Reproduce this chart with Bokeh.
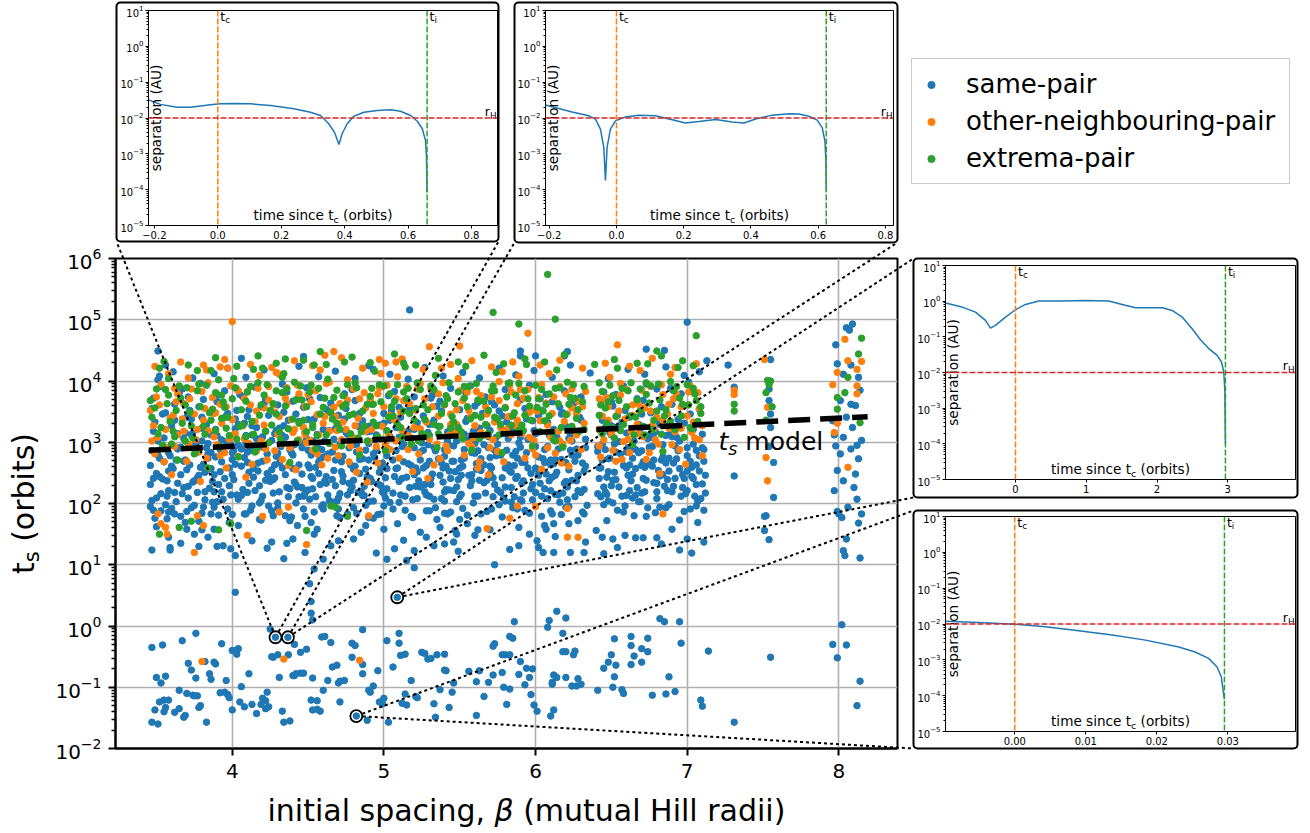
import math
from bokeh.plotting import figure
from bokeh.models import (Range1d, FixedTicker, CustomJSTickFormatter, Span, BoxAnnotation,
                          Legend, LegendItem)
from bokeh.core.properties import value
from bokeh.embed import file_html
from bokeh.resources import INLINE

W, H = 1310, 833
FONT = "DejaVu Sans"
BLUE, ORANGE, GREEN, RED = "#1f77b4", "#ff7f0e", "#2ca02c", "#d62728"

# ---------------- data: (initial spacing beta, log10 t_s) ----------------
same_pair_band_a = [
(3.46,2.31),(3.48,3.72),(3.47,2.86),(3.50,3.05),(3.52,2.44),(3.49,3.33),(3.55,2.68),(3.53,3.91),(3.57,2.12),(3.56,3.48),(3.60,2.95),(3.58,2.21),(3.62,3.62),(3.61,2.57),(3.64,3.14),(3.63,2.03),(3.51,4.02),(3.59,2.78),(3.47,3.55),(3.54,2.40),
(3.66,2.92),(3.68,2.26),(3.70,3.41),(3.67,3.87),(3.72,2.63),(3.74,3.15),(3.71,2.09),(3.76,2.83),(3.78,3.58),(3.75,2.37),(3.80,3.02),(3.82,2.51),(3.79,3.96),(3.84,2.74),(3.83,3.29),(3.69,2.71),(3.77,2.18),(3.81,3.70),(3.73,3.38),(3.85,2.25),
(3.86,3.12),(3.88,2.47),(3.90,3.66),(3.87,2.02),(3.92,2.88),(3.94,3.39),(3.91,2.31),(3.96,3.01),(3.98,2.58),(3.95,3.84),(4.00,2.72),(4.02,3.22),(3.99,2.14),(4.04,2.95),(4.03,3.52),(3.89,2.76),(3.97,3.47),(4.01,2.39),(3.93,2.19),(4.05,3.78),
(4.06,2.61),(4.08,3.31),(4.10,2.18),(4.07,3.74),(4.12,2.87),(4.14,2.43),(4.11,3.53),(4.16,3.06),(4.18,2.29),(4.15,3.90),(4.20,2.69),(4.22,3.18),(4.19,2.05),(4.24,3.44),(4.23,2.81),(4.09,2.97),(4.17,2.53),(4.21,3.63),(4.13,3.12),(4.25,2.36),
(4.26,3.03),(4.28,2.42),(4.30,3.61),(4.27,2.17),(4.32,2.93),(4.34,3.27),(4.31,2.66),(4.36,3.82),(4.38,2.24),(4.35,3.08),(4.40,2.57),(4.42,3.46),(4.39,2.83),(4.44,2.11),(4.43,3.71),(4.29,2.77),(4.37,3.36),(4.41,2.35),(4.33,3.95),(4.45,2.99),
(4.46,2.48),(4.48,3.16),(4.50,2.22),(4.47,3.57),(4.52,2.79),(4.54,3.38),(4.51,2.07),(4.56,2.96),(4.58,3.73),(4.55,2.59),(4.60,3.21),(4.62,2.33),(4.59,2.88),(4.64,3.49),(4.63,2.14),(4.49,3.89),(4.57,2.68),(4.61,3.02),(4.53,2.41),(4.65,3.64),
(4.66,2.84),(4.68,2.29),(4.70,3.44),(4.67,3.05),(4.72,2.52),(4.74,3.79),(4.71,2.16),(4.76,3.13),(4.78,2.63),(4.75,3.55),(4.80,2.38),(4.82,2.97),(4.79,3.86),(4.84,2.72),(4.83,3.26),(4.69,2.04),(4.77,2.91),(4.81,3.68),(4.73,2.45),(4.85,2.19),
(4.86,3.35),(4.88,2.56),(4.90,2.98),(4.87,2.13),(4.92,3.62),(4.94,2.75),(4.91,3.18),(4.96,2.32),(4.98,3.91),(4.95,2.87),(5.00,3.47),(5.02,2.24),(4.99,2.66),(5.04,3.09),(5.03,3.76),(4.89,2.44),(4.97,3.28),(5.01,2.09),(4.93,2.81),(5.05,3.52),
(5.06,2.71),(5.08,3.24),(5.10,2.36),(5.07,3.83),(5.12,2.93),(5.14,2.12),(5.11,3.41),(5.16,2.65),(5.18,3.07),(5.15,3.68),(5.20,2.47),(5.22,3.32),(5.19,2.06),(5.24,2.84),(5.23,3.95),(5.09,2.58),(5.17,3.55),(5.21,2.28),(5.13,3.14),(5.25,2.99),
(5.26,3.43),(5.28,2.62),(5.30,3.11),(5.27,2.19),(5.32,3.77),(5.34,2.86),(5.31,2.41),(5.36,3.26),(5.38,2.08),(5.35,3.59),(5.40,2.77),(5.42,3.02),(5.39,2.35),(5.44,3.88),(5.43,2.53),(5.29,2.96),(5.37,3.67),(5.41,2.23),(5.33,3.36),(5.45,2.69),
(5.46,2.94),(5.48,2.27),(5.50,3.53),(5.47,3.18),(5.52,2.61),(5.54,3.81),(5.51,2.15),(5.56,3.04),(5.58,2.47),(5.55,3.39),(5.60,2.82),(5.62,3.65),(5.59,2.01),(5.64,2.73),(5.63,3.23),(5.49,2.39),(5.57,3.92),(5.61,2.56),(5.53,2.88),(5.65,3.47),
(5.66,2.34),(5.68,3.27),(5.70,2.75),(5.67,3.74),(5.72,2.11),(5.74,3.08),(5.71,2.58),(5.76,3.51),(5.78,2.42),(5.75,2.97),(5.80,3.86),(5.82,2.63),(5.79,3.15),(5.84,2.26),(5.83,3.42),(5.69,2.91),(5.77,2.18),(5.81,3.33),(5.73,3.61),(5.85,2.79),
(5.86,3.21),(5.88,2.44),(5.90,3.69),(5.87,2.85),(5.92,2.17),(5.94,3.38),(5.91,2.67),(5.96,3.93),(5.98,2.31),(5.95,3.05),(6.00,2.58),(6.02,3.44),(5.99,2.93),(6.04,2.12),(6.03,3.71),(5.89,2.99),(5.97,2.49),(6.01,3.16),(5.93,3.55),(6.05,2.73),
(6.06,2.88),(6.08,3.32),(6.10,2.21),(6.07,3.78),(6.12,2.65),(6.14,3.09),(6.11,2.43),(6.16,3.57),(6.18,2.94),(6.15,2.14),(6.20,3.26),(6.22,2.55),(6.19,3.84),(6.24,2.79),(6.23,3.13),(6.09,2.37),(6.17,3.46),(6.21,2.06),(6.13,2.72),(6.25,3.63),
(6.26,3.18),(6.28,2.46),(6.30,3.74),(6.27,2.89),(6.32,2.23),(6.29,3.41),(6.31,2.66),(6.33,3.05),(6.42,2.58),(6.44,3.36),(6.43,2.11),(6.41,2.93),(6.45,3.82),(6.44,2.71),
(6.46,3.24),(6.48,2.52),(6.50,3.66),(6.47,2.15),(6.52,2.97),(6.54,3.44),(6.51,2.38),(6.56,2.81),(6.58,3.92),(6.55,2.27),(6.60,3.15),(6.62,2.63),(6.59,3.52),(6.64,2.09),(6.63,2.89),(6.49,2.74),(6.57,3.33),(6.61,2.46),(6.53,3.78),(6.65,3.02),
(6.66,2.57),(6.68,3.29),(6.70,2.86),(6.67,3.71),(6.72,2.19),(6.74,3.06),(6.71,2.68),(6.76,3.48),(6.78,2.34),(6.75,2.92),(6.80,3.87),(6.82,2.45),(6.79,3.17),(6.84,2.76),(6.83,3.58),(6.69,2.03),(6.77,2.61),(6.81,3.35),(6.73,3.95),(6.85,2.28),
(6.86,3.11),(6.88,2.53),(6.90,3.62),(6.87,2.21),(6.92,2.94),(6.94,3.37),(6.91,2.66),(6.96,3.79),(6.98,2.41),(6.95,3.02),(7.00,2.78),(7.02,3.46),(6.99,2.16),(7.04,3.21),(7.03,2.59),(7.06,2.87),(7.08,3.54),(7.10,2.32),(7.07,2.04),(7.11,2.69),(6.89,3.88),(6.97,2.47),(7.01,3.98),(7.05,2.12),
]
same_pair_band_b = [
(3.46,2.62),(3.48,3.18),(3.50,2.09),(3.52,2.74),(3.54,3.46),(3.56,1.98),(3.58,2.53),(3.60,3.27),(3.62,2.18),(3.64,2.89),(3.65,3.81),(3.49,1.76),
(3.66,2.47),(3.68,3.06),(3.70,1.87),(3.72,3.52),(3.74,2.35),(3.76,2.97),(3.78,1.71),(3.80,3.23),(3.82,2.06),(3.84,2.81),(3.71,3.74),(3.79,2.59),
(3.86,2.83),(3.88,1.94),(3.90,3.11),(3.92,2.52),(3.94,2.07),(3.96,3.43),(3.98,2.29),(4.00,1.82),(4.02,2.64),(4.04,3.29),(3.91,3.77),(3.99,2.96),
(4.06,2.13),(4.08,2.75),(4.10,3.42),(4.12,1.89),(4.14,2.57),(4.16,3.24),(4.18,2.01),(4.20,2.92),(4.22,3.69),(4.24,2.44),(4.11,2.33),(4.19,3.58),
(4.26,2.55),(4.28,3.14),(4.30,1.93),(4.32,2.71),(4.34,3.49),(4.36,2.26),(4.38,2.88),(4.40,3.67),(4.42,2.01),(4.44,2.63),(4.31,3.23),(4.39,1.78),
(4.46,2.91),(4.48,2.17),(4.50,3.37),(4.52,2.44),(4.54,1.86),(4.56,3.13),(4.58,2.31),(4.60,2.76),(4.62,3.54),(4.64,2.05),(4.51,3.71),(4.59,1.95),
(4.66,2.39),(4.68,3.22),(4.70,1.91),(4.72,2.68),(4.74,3.38),(4.76,2.14),(4.78,3.03),(4.80,2.56),(4.82,1.84),(4.84,3.47),(4.71,2.97),(4.79,2.27),
(4.86,2.73),(4.88,1.97),(4.90,3.26),(4.92,2.36),(4.94,3.04),(4.96,1.82),(4.98,2.59),(5.00,3.31),(5.02,2.78),(5.04,2.02),(4.91,3.66),(4.99,2.19),
(5.06,2.17),(5.08,2.86),(5.10,3.57),(5.12,2.41),(5.14,1.89),(5.16,3.18),(5.18,2.62),(5.20,3.74),(5.22,2.08),(5.24,2.71),(5.11,3.02),(5.19,1.77),
(5.26,2.87),(5.28,2.14),(5.30,3.29),(5.32,2.48),(5.34,1.93),(5.36,2.73),(5.38,3.51),(5.40,2.19),(5.42,2.96),(5.44,1.86),(5.31,3.72),(5.39,2.58),
(5.46,2.21),(5.48,3.02),(5.50,2.58),(5.52,1.92),(5.54,3.34),(5.56,2.46),(5.58,2.83),(5.60,3.59),(5.62,2.12),(5.64,1.83),(5.51,2.71),(5.59,3.18),
(5.66,2.96),(5.68,1.87),(5.70,3.19),(5.72,2.42),(5.74,2.78),(5.76,1.98),(5.78,3.43),(5.80,2.27),(5.82,3.06),(5.84,2.51),(5.71,3.66),(5.79,2.09),
(5.86,2.62),(5.88,1.91),(5.90,3.08),(5.92,2.37),(5.94,2.83),(5.96,1.84),(5.98,3.35),(6.00,2.18),(6.02,2.76),(6.04,3.52),(5.91,2.04),(5.99,3.19),
(6.06,2.24),(6.08,2.93),(6.10,1.88),(6.12,3.21),(6.14,2.51),(6.16,2.02),(6.18,3.48),(6.20,2.67),(6.22,1.95),(6.24,3.02),(6.11,3.66),(6.19,2.33),
(6.26,2.11),(6.28,2.79),(6.30,3.36),(6.32,2.53),(6.34,1.97),(6.41,2.85),(6.43,3.19),(6.45,2.27),
(6.46,2.88),(6.48,2.04),(6.50,3.12),(6.52,2.51),(6.54,1.89),(6.56,3.27),(6.58,2.62),(6.60,2.13),(6.62,3.41),(6.64,2.74),(6.51,3.59),(6.59,1.96),
(6.66,2.14),(6.68,2.83),(6.70,3.46),(6.72,2.59),(6.74,1.93),(6.76,3.14),(6.78,2.71),(6.80,2.08),(6.82,3.29),(6.84,2.47),(6.71,3.68),(6.79,1.85),
(6.86,2.66),(6.88,1.98),(6.90,3.09),(6.92,2.41),(6.94,2.86),(6.96,2.12),(6.98,3.31),(7.00,2.53),(7.02,1.91),(7.04,2.97),(7.06,2.31),(7.08,2.78),(7.10,3.13),(7.12,2.46),
]
same_pair_band_c = [
(3.47,2.05),(3.50,2.49),(3.53,1.88),(3.57,2.37),(3.60,1.92),(3.63,2.71),(3.51,3.02),(3.58,2.83),
(3.67,2.16),(3.70,2.55),(3.73,1.93),(3.77,2.42),(3.80,1.84),(3.83,2.91),(3.69,3.15),(3.81,2.64),
(3.87,2.36),(3.90,2.03),(3.93,2.68),(3.97,1.91),(4.00,2.47),(4.03,2.14),(3.89,3.21),(4.01,2.87),
(4.07,2.23),(4.10,2.84),(4.13,1.96),(4.17,2.66),(4.20,2.12),(4.23,2.49),(4.09,3.11),(4.21,2.95),
(4.27,2.39),(4.30,2.01),(4.33,2.58),(4.37,2.11),(4.40,2.79),(4.43,2.27),(4.29,3.19),(4.41,2.96),
(4.47,2.12),(4.50,2.63),(4.53,2.24),(4.57,2.49),(4.60,1.98),(4.63,2.81),(4.49,3.06),(4.61,2.37),
(4.67,2.54),(4.70,2.09),(4.73,2.77),(4.77,2.33),(4.80,2.96),(4.83,2.18),(4.69,3.23),(4.81,2.61),
(4.87,2.28),(4.90,2.71),(4.93,2.04),(4.97,2.51),(5.00,2.16),(5.03,2.89),(4.89,3.17),(5.01,2.42),
(5.07,2.44),(5.10,2.02),(5.13,2.68),(5.17,2.26),(5.20,2.91),(5.23,2.37),(5.09,3.24),(5.21,2.58),
(5.27,2.31),(5.30,2.69),(5.33,2.07),(5.37,2.46),(5.40,2.88),(5.43,2.22),(5.29,3.16),(5.41,2.61),
(5.47,2.52),(5.50,2.11),(5.53,2.74),(5.57,2.29),(5.60,2.98),(5.63,2.38),(5.49,3.21),(5.61,2.65),
(5.67,2.17),(5.70,2.61),(5.73,2.31),(5.77,2.79),(5.80,2.04),(5.83,2.53),(5.69,3.09),(5.81,2.87),
(5.87,2.41),(5.90,2.06),(5.93,2.67),(5.97,2.24),(6.00,2.93),(6.03,2.33),(5.89,3.26),(6.01,2.56),
(6.07,2.48),(6.10,2.63),(6.13,2.15),(6.17,2.72),(6.20,2.36),(6.23,2.87),(6.09,3.12),(6.21,2.27),
(6.27,2.37),(6.30,2.18),(6.33,2.61),(6.42,2.41),(6.44,2.97),
(6.47,2.43),(6.50,2.29),(6.53,2.84),(6.57,2.12),(6.60,2.58),(6.63,2.37),(6.49,3.16),(6.61,2.91),
(6.67,2.26),(6.70,2.62),(6.73,2.38),(6.77,2.93),(6.80,2.19),(6.83,2.71),(6.69,3.22),(6.81,2.54),
(6.87,2.39),(6.90,2.19),(6.93,2.73),(6.97,2.26),(7.00,2.91),(7.03,2.44),(7.06,2.63),(7.09,2.08),(6.89,3.14),(7.11,2.88),
]
same_pair_band_d = [
(3.46,1.95),(3.48,2.41),(3.51,2.79),(3.53,2.16),(3.55,3.07),(3.58,1.86),(3.60,2.61),(3.62,3.36),(3.64,2.33),(3.50,1.62),
(3.66,1.79),(3.68,2.69),(3.71,2.28),(3.73,3.12),(3.75,1.97),(3.78,2.46),(3.80,3.41),(3.82,2.19),(3.84,2.98),(3.70,1.58),
(3.86,2.57),(3.88,2.19),(3.91,1.81),(3.93,3.04),(3.95,2.41),(3.98,1.69),(4.00,2.83),(4.02,3.38),(4.04,2.07),(3.90,2.95),
(4.06,2.89),(4.08,1.83),(4.11,2.51),(4.13,3.27),(4.15,2.21),(4.18,1.74),(4.20,3.09),(4.22,2.38),(4.24,1.96),(4.10,2.67),
(4.26,1.88),(4.28,2.63),(4.31,2.19),(4.33,3.11),(4.35,2.47),(4.38,1.72),(4.40,2.96),(4.42,2.31),(4.44,3.34),(4.30,2.82),
(4.46,2.26),(4.48,1.79),(4.51,2.58),(4.53,3.02),(4.55,2.11),(4.58,2.73),(4.60,1.91),(4.62,2.44),(4.64,3.19),(4.50,2.87),
(4.66,2.02),(4.68,2.71),(4.71,1.77),(4.73,2.36),(4.75,3.16),(4.78,2.21),(4.80,1.93),(4.82,2.84),(4.84,2.49),(4.70,3.29),
(4.86,2.13),(4.88,2.87),(4.91,2.41),(4.93,1.76),(4.95,3.12),(4.98,2.29),(5.00,1.96),(5.02,2.57),(5.04,3.36),(4.90,2.03),
(5.06,1.91),(5.08,2.57),(5.11,2.14),(5.13,2.96),(5.15,2.43),(5.18,1.79),(5.20,3.21),(5.22,2.52),(5.24,2.27),(5.10,3.08),
(5.26,2.58),(5.28,1.88),(5.31,2.31),(5.33,2.92),(5.35,1.74),(5.38,2.66),(5.40,2.04),(5.42,3.17),(5.44,2.41),(5.30,2.12),
(5.46,2.69),(5.48,2.03),(5.51,2.46),(5.53,3.13),(5.55,1.81),(5.58,2.37),(5.60,2.12),(5.62,2.86),(5.64,2.54),(5.50,1.74),
(5.66,2.63),(5.68,2.38),(5.71,1.91),(5.73,2.87),(5.75,2.22),(5.78,1.78),(5.80,2.58),(5.82,3.21),(5.84,2.02),(5.70,2.49),
(5.86,2.11),(5.88,2.74),(5.91,2.33),(5.93,1.89),(5.95,2.58),(5.98,2.06),(6.00,3.14),(6.02,2.46),(6.04,1.79),(5.90,2.92),
(6.06,2.67),(6.08,2.08),(6.11,1.83),(6.13,2.46),(6.15,2.89),(6.18,2.17),(6.20,1.94),(6.22,3.06),(6.24,2.38),(6.10,2.71),
(6.26,2.69),(6.28,2.21),(6.31,1.86),(6.33,2.91),(6.41,2.16),(6.43,2.58),(6.45,1.98),
(6.46,2.19),(6.48,2.73),(6.51,2.01),(6.53,2.39),(6.55,3.01),(6.58,1.86),(6.60,2.84),(6.62,2.21),(6.64,2.48),(6.50,3.27),
(6.66,2.88),(6.68,2.03),(6.71,2.41),(6.73,1.79),(6.75,2.64),(6.78,3.07),(6.80,2.33),(6.82,1.94),(6.84,2.96),(6.70,2.17),
(6.86,1.93),(6.88,2.74),(6.91,2.28),(6.93,3.08),(6.95,2.57),(6.98,1.87),(7.00,2.21),(7.02,2.69),(7.04,2.41),(7.06,1.96),(7.08,2.53),(7.10,2.91),(7.12,2.17),
]
same_pair_fringe = [(3.52,4.08),(3.61,4.15),(3.74,4.05),(3.88,4.12),(3.97,4.21),(4.09,4.06),(4.21,4.18),(4.33,4.09),(4.44,4.24),(4.57,4.07),(4.68,4.16),(4.81,4.04),
(4.93,4.19),(5.04,4.11),(5.16,4.03),(5.27,4.22),(5.39,4.08),(5.52,4.14),(5.63,4.05),(5.76,4.21),(5.87,4.10),(5.99,4.17),(6.11,4.06),(6.23,4.26),(6.36,4.13),(6.48,4.04),
(6.61,4.19),(6.72,4.11),(6.86,4.23),(6.98,4.09),(7.08,4.15)]
same_pair_mid_low = [
(3.47,1.24),(3.48,1.89),(3.57,1.75),(3.58,1.45),(3.59,1.28),(3.59,1.24),(3.62,1.83),(3.66,1.35),(3.69,1.69),(3.75,1.50),(3.78,1.30),(3.80,1.57),(3.81,1.94),(3.84,1.45),(3.86,1.83),(3.88,1.58),(3.90,1.30),(3.94,1.31),(3.99,1.26),(4.02,1.15),
(4.04,1.64),(4.09,1.83),(4.13,1.39),(4.19,1.73),(4.23,1.27),(4.26,1.37),(4.27,1.80),(4.34,1.10),(4.35,1.80),(4.36,1.35),(4.40,1.42),(4.43,1.64),(4.47,1.91),(4.48,1.20),(4.52,1.69),(4.54,1.50),(4.56,1.58),(4.60,1.09),(4.65,1.31),(4.69,1.80),
(4.70,1.39),(4.76,1.83),(4.80,1.42),(4.85,1.53),(4.88,1.64),(4.90,1.77),(4.95,1.19),(4.98,1.83),(5.00,1.58),(5.02,1.09),(5.07,1.26),(5.09,1.67),(5.13,1.40),(5.15,1.07),(5.20,1.23),(5.24,1.53),(5.28,1.45),(5.30,1.88),(5.33,1.31),(5.37,1.61),
(5.42,1.83),(5.46,1.37),(5.40,1.84),(5.48,1.50),(5.47,1.56),(5.40,1.34),(5.49,1.22),(5.55,1.67),(5.60,1.48),(5.62,1.57),(5.70,1.57),(5.73,1.00),(5.83,1.25),(5.85,1.93),(5.89,1.61),(5.89,1.31),(5.96,1.50),(6.01,1.39),(6.02,1.28),(6.05,1.20),
(6.06,1.64),(6.07,1.58),(6.12,1.20),(6.12,1.67),(6.13,1.46),(6.17,1.82),(6.22,1.67),(6.23,1.20),(6.28,1.72),(6.32,1.83),(6.32,1.20),(6.33,1.37),(6.40,1.56),(6.44,1.45),(6.45,1.18),(6.47,1.72),(6.51,1.42),(6.54,1.28),(6.59,1.48),(6.65,1.80),
(6.66,1.44),(6.71,1.44),(6.80,1.44),(6.83,1.34),(6.90,1.58),(6.95,1.73),(6.95,1.24),(7.00,1.42),(7.03,1.19),(7.07,1.69),(7.11,1.89),(7.11,1.37),(7.51,1.79),(7.51,1.56),(7.54,1.41),(8.00,1.83),(8.02,1.77),(8.03,1.23),(8.04,1.15),(8.05,1.42),
(8.13,1.68),(8.14,1.11),
]
same_pair_mid = [(4.02,0.55),(4.51,0.69),(4.52,0.40),(4.52,0.21),(4.53,0.10),(4.54,0.93),(5.20,0.95),(5.86,0.07),(6.14,0.24),(6.20,0.13),(6.82,0.12)]
same_pair_low = [
(3.47,-0.35),(3.49,-1.37),(3.50,-0.84),(3.53,-0.93),(3.54,-0.31),(3.55,-1.21),(3.56,-0.82),(3.55,-1.40),(3.56,-1.33),(3.52,-1.24),(3.47,-1.57),(3.51,-1.60),(3.58,-1.21),(3.62,-1.41),(3.65,-1.35),(3.65,-1.05),(3.67,-0.24),(3.68,-1.49),(3.69,-1.46),(3.70,-1.10),
(3.71,-0.61),(3.73,-0.72),(3.74,-1.13),(3.76,-0.12),(3.75,-1.14),(3.77,-1.14),(3.78,-1.33),(3.79,-1.30),(3.76,-0.85),(3.82,-0.58),(3.83,-1.57),(3.85,-0.78),(3.86,-0.87),(3.88,-0.59),(3.89,-0.62),(3.92,-1.09),(3.93,-0.29),(3.95,-1.08),(3.96,-0.89),(3.97,-1.12),
(3.98,-1.17),(4.00,-0.40),(4.00,-1.37),(4.02,-0.40),(4.03,-0.46),(4.04,-0.37),(4.05,-1.24),(4.06,-0.99),(4.08,-1.32),(4.11,-0.78),(4.13,-1.28),(4.16,-1.43),(4.19,-1.28),(4.20,-1.18),(4.22,-1.22),(4.23,-1.08),(4.22,-1.35),(4.24,-1.32),(4.25,-0.05),(4.26,-0.50),
(4.27,-0.51),(4.30,-0.47),(4.31,-0.84),(4.33,-1.39),(4.34,-1.57),(4.37,-0.47),(4.38,-1.55),(4.40,-0.81),(4.41,-0.81),(4.42,-0.78),(4.41,-0.30),(4.45,-0.43),(4.45,-0.77),(4.47,-0.77),(4.49,-0.38),(4.52,-1.21),(4.53,-0.85),(4.53,-1.37),(4.56,-1.22),(4.56,-1.36),
(4.58,-1.39),(4.59,-0.18),(4.60,-1.05),(4.61,-0.17),(4.63,-0.89),(4.65,-0.27),(4.66,-0.67),(4.69,-0.64),(4.70,-0.93),(4.71,-1.24),(4.71,-0.90),(4.74,-0.89),(4.79,-0.51),(4.79,-0.28),(4.81,-0.32),(4.86,-0.78),(4.86,-0.06),(4.86,-0.63),(4.89,-1.54),(4.90,-1.05),
(4.91,-1.08),(4.93,-0.98),(4.96,-0.73),(4.97,-1.24),(4.99,-1.27),(5.00,-1.18),(5.02,-0.24),(5.03,-1.57),(5.06,-0.67),(5.10,-0.12),(5.10,-0.28),(5.11,-0.48),(5.12,-1.26),(5.14,-0.46),(5.14,-1.11),(5.15,-1.29),(5.18,-0.89),(5.21,-1.15),(5.22,-1.17),(5.25,-0.43),
(5.27,-0.45),(5.29,-0.54),(5.31,-0.53),(5.33,-1.27),(5.34,-1.49),(5.35,-0.47),(5.37,-1.04),(5.40,-0.46),(5.41,-0.73),(5.43,-1.33),(5.45,-1.08),(5.46,-0.93),(5.40,-0.72),(5.56,-0.74),(5.61,-0.91),(5.61,-1.46),(5.63,-0.73),(5.66,-1.15),(5.69,-0.92),(5.72,-0.33),
(5.73,-0.29),(5.72,-0.80),(5.78,-0.47),(5.80,-0.47),(5.83,-0.47),(5.78,-0.76),(5.79,-1.00),(5.81,-1.28),(5.83,-1.03),(5.83,-0.17),(5.85,-0.20),(5.89,-0.79),(5.90,-0.58),(5.93,-0.96),(5.94,-0.69),(5.96,-0.84),(5.97,-1.12),(5.98,-0.70),(5.99,-1.29),(6.01,-1.39),
(6.08,-0.02),(6.09,0.09),(6.11,-0.92),(6.11,-0.95),(6.12,-0.80),(6.14,-0.84),(6.12,-1.37),(6.10,-1.47),(6.18,-0.12),(6.18,-0.42),(6.20,-0.42),(6.20,-0.84),(6.24,-0.98),(6.27,-0.98),(6.25,-0.47),(6.26,-0.41),(6.28,-0.86),(6.30,-0.95),(6.41,-1.05),(6.45,-0.69),
(6.48,-0.59),(6.50,-0.47),(6.51,-1.00),(6.52,-0.83),(6.53,-0.64),(6.52,-0.21),(6.57,-1.04),(6.58,-1.10),(6.63,-0.63),(6.63,-0.32),(6.63,-0.17),(6.65,-0.49),(6.70,-0.37),(6.70,-0.59),(6.74,-0.42),(6.74,-0.20),(6.77,-1.13),(6.85,0.07),(6.86,-1.11),(6.88,-0.83),
(6.92,-1.07),(6.95,0.07),(6.96,-0.28),(7.09,-1.21),(7.10,-1.31),(7.14,-0.41),(7.31,-1.57),(7.55,-0.51),(7.96,-0.30),(7.99,-0.52),(8.02,0.02),(8.05,-0.31),(8.12,-1.30),(8.14,-0.90),
]
same_pair_right = [
(7.55,4.35),(7.54,3.87),(7.54,3.68),(7.55,3.46),(7.55,3.24),(7.54,2.93),(7.57,2.67),(7.57,2.10),(7.52,1.80),(7.27,4.26),(7.31,3.90),(7.31,2.45),(7.13,4.33),
(8.09,4.93),(8.05,4.87),(8.07,4.83),(7.98,4.59),(7.99,4.28),(8.08,4.26),(8.03,4.11),(8.13,4.06),(8.01,3.68),(8.08,3.62),(8.11,3.60),(8.05,3.41),(8.09,3.24),(8.03,3.08),(8.15,3.03),(7.98,2.94),(8.08,2.89),
(8.01,2.81),(8.13,2.73),(7.99,2.54),(8.11,2.48),(8.03,2.37),(8.10,2.26),(7.97,2.21),(8.12,2.07),(8.06,1.94),(7.99,1.87),(8.15,1.83),(7.96,3.35),(8.14,3.85),(7.97,3.12),(8.12,2.95),
]
same_pair_outliers = [(5.17,5.16),(7.00,4.96),(3.51,4.49),(3.56,4.26),(4.06,4.37),(4.47,4.40),(4.90,4.25),(5.90,4.49),(5.90,4.41),(6.00,4.41),(6.19,4.41),(6.21,4.48),(6.73,4.52),(6.85,4.50)]

other_pair_band_a = [
(3.46,3.52),(3.49,2.81),(3.53,3.94),(3.56,3.21),(3.60,2.47),(3.63,3.66),(3.51,3.08),(3.58,4.12),(3.62,2.93),
(3.67,3.38),(3.70,2.69),(3.73,3.87),(3.76,3.04),(3.79,2.36),(3.82,3.55),(3.84,3.19),(3.71,4.05),(3.78,2.84),
(3.87,3.73),(3.90,2.96),(3.93,3.31),(3.96,2.58),(3.99,3.92),(4.02,3.14),(4.04,2.77),(3.89,3.48),(3.97,4.21),
(4.07,3.27),(4.10,3.83),(4.13,2.64),(4.16,3.51),(4.19,3.02),(4.22,2.89),(4.24,3.69),(4.09,2.43),(4.18,4.09),
(4.27,3.61),(4.30,3.13),(4.33,2.72),(4.36,3.89),(4.39,3.37),(4.42,2.55),(4.44,3.04),(4.29,4.14),(4.38,2.91),
(4.47,3.24),(4.50,3.78),(4.53,2.87),(4.56,3.45),(4.59,2.63),(4.62,3.96),(4.64,3.18),(4.49,2.99),(4.58,4.18),
(4.67,3.57),(4.70,2.78),(4.73,3.33),(4.76,4.02),(4.79,3.09),(4.82,2.51),(4.84,3.71),(4.69,3.19),(4.78,2.94),
(4.87,3.81),(4.90,3.02),(4.93,3.47),(4.96,2.66),(4.99,3.26),(5.02,3.93),(5.04,2.88),(4.89,2.35),(4.98,4.12),
(5.07,3.36),(5.10,2.74),(5.13,3.68),(5.16,3.11),(5.19,2.52),(5.22,3.87),(5.24,3.22),(5.09,4.07),(5.18,2.97),
(5.27,3.71),(5.30,3.05),(5.33,2.63),(5.36,3.43),(5.39,3.97),(5.42,2.86),(5.44,3.29),(5.29,2.41),(5.38,4.21),
(5.47,3.16),(5.50,3.84),(5.53,2.79),(5.56,3.52),(5.59,3.07),(5.62,2.58),(5.64,3.76),(5.49,4.04),(5.58,2.93),
(5.67,3.58),(5.70,2.91),(5.73,3.33),(5.76,3.99),(5.79,2.68),(5.82,3.42),(5.84,3.12),(5.69,2.47),(5.78,4.15),
(5.87,3.27),(5.90,3.86),(5.93,2.74),(5.96,3.49),(5.99,3.03),(6.02,3.73),(6.04,2.56),(5.89,4.08),(5.98,2.89),
(6.07,3.64),(6.10,3.08),(6.13,2.82),(6.16,3.91),(6.19,3.34),(6.22,2.61),(6.24,3.56),(6.09,4.12),(6.18,2.97),
(6.27,3.47),(6.30,2.88),(6.33,3.83),(6.42,3.21),(6.44,3.67),(6.43,2.76),
(6.47,3.73),(6.50,3.14),(6.53,2.69),(6.56,3.96),(6.59,3.38),(6.62,2.83),(6.64,3.61),(6.49,4.06),(6.58,3.01),
(6.67,3.29),(6.70,3.85),(6.73,2.72),(6.76,3.51),(6.79,3.04),(6.82,2.49),(6.84,3.78),(6.69,4.17),(6.78,3.22),
(6.87,3.46),(6.90,2.96),(6.93,3.79),(6.96,3.23),(6.99,2.64),(7.02,3.92),(7.05,3.07),(7.08,3.55),(6.89,4.11),(7.10,2.78),
]
other_pair_band_b = [
(3.47,3.02),(3.50,3.74),(3.55,2.68),(3.59,3.39),(3.62,3.88),(3.64,3.12),(3.68,3.63),(3.71,2.97),(3.75,3.46),(3.80,3.83),(3.83,2.74),(3.77,3.21),
(3.88,3.09),(3.92,3.62),(3.95,2.83),(4.00,3.37),(4.03,3.87),(3.98,3.05),(4.08,3.71),(4.11,2.98),(4.15,3.34),(4.21,3.56),(4.23,2.71),(4.17,3.88),
(4.28,2.86),(4.31,3.42),(4.35,3.72),(4.40,3.16),(4.43,3.93),(4.37,2.62),(4.48,3.58),(4.51,3.03),(4.55,3.84),(4.60,3.31),(4.63,2.74),(4.57,3.12),
(4.68,2.92),(4.71,3.63),(4.75,3.21),(4.80,3.87),(4.83,3.39),(4.77,2.68),(4.88,3.18),(4.91,3.71),(4.95,2.93),(5.00,3.58),(5.03,3.14),(4.97,3.89),
(5.08,3.02),(5.11,3.49),(5.15,3.91),(5.20,3.24),(5.23,2.81),(5.17,3.63),(5.28,3.33),(5.31,3.87),(5.35,2.97),(5.40,3.61),(5.43,3.12),(5.37,2.73),
(5.48,3.53),(5.51,3.09),(5.55,3.82),(5.60,3.27),(5.63,2.68),(5.57,3.41),(5.68,3.11),(5.71,3.74),(5.75,2.85),(5.80,3.57),(5.83,3.93),(5.77,3.24),
(5.88,3.63),(5.91,3.14),(5.95,3.86),(6.00,2.79),(6.03,3.35),(5.97,3.52),(6.08,2.91),(6.11,3.47),(6.15,3.18),(6.20,3.79),(6.23,3.03),(6.17,2.66),
(6.27,3.12),(6.31,3.58),(6.42,2.94),(6.44,3.43),(6.48,3.36),(6.51,2.87),(6.55,3.51),(6.60,3.86),(6.63,3.17),(6.57,2.72),
(6.68,3.62),(6.71,3.09),(6.75,2.83),(6.80,3.41),(6.83,3.94),(6.77,3.27),(6.88,3.23),(6.91,3.71),(6.95,2.88),(7.00,3.43),(7.03,3.16),(7.07,3.81),(7.10,3.27),
]
other_pair_band_c = [
(3.48,3.27),(3.52,3.61),(3.57,2.91),(3.61,3.44),(3.64,3.79),(3.68,3.18),(3.72,3.71),(3.76,2.89),(3.81,3.36),(3.84,3.97),
(3.88,3.47),(3.92,2.78),(3.96,3.58),(4.01,3.12),(4.04,3.84),(4.08,3.06),(4.12,3.61),(4.16,2.86),(4.21,3.28),(4.24,3.91),
(4.28,3.49),(4.32,2.97),(4.36,3.63),(4.41,3.21),(4.44,3.79),(4.48,3.13),(4.52,3.66),(4.56,2.81),(4.61,3.42),(4.64,3.98),
(4.68,3.42),(4.72,3.04),(4.76,3.69),(4.81,3.27),(4.84,2.87),(4.88,3.56),(4.92,3.21),(4.96,3.79),(5.01,2.97),(5.04,3.44),
(5.08,3.71),(5.12,3.19),(5.16,2.88),(5.21,3.52),(5.24,3.96),(5.28,3.11),(5.32,3.58),(5.36,3.79),(5.41,2.94),(5.44,3.46),
(5.48,3.29),(5.52,3.68),(5.56,2.98),(5.61,3.83),(5.64,3.16),(5.68,3.46),(5.72,3.04),(5.76,3.68),(5.81,3.21),(5.84,3.82),
(5.88,3.36),(5.92,3.72),(5.96,3.08),(6.01,3.51),(6.04,3.94),(6.08,3.28),(6.12,3.74),(6.16,3.02),(6.21,3.46),(6.24,3.87),
(6.28,3.67),(6.32,3.31),(6.42,3.71),(6.45,3.04),(6.48,3.58),(6.52,3.22),(6.56,3.77),(6.61,3.05),(6.64,3.44),
(6.68,3.14),(6.72,3.56),(6.76,3.91),(6.81,2.97),(6.84,3.36),(6.88,3.62),(6.92,3.17),(6.96,3.58),(7.01,3.82),(7.04,3.33),(7.08,3.04),
]
other_pair_fringe = [(3.49,4.24),(3.66,4.31),(3.83,4.18),(3.95,4.35),(4.12,4.27),(4.26,4.22),(4.41,4.33),(4.53,4.25),(4.72,4.38),(4.86,4.21),(5.01,4.29),(5.12,4.36),
(5.26,4.19),(5.44,4.27),(5.58,4.33),(5.71,4.23),(5.85,4.31),(6.03,4.26),(6.16,4.34),(6.31,4.21),(6.46,4.29),(6.62,4.24),(6.77,4.37),(6.92,4.22),(7.06,4.28)]
other_pair_low = [(3.80,-0.58),(4.34,-0.54),(4.84,-0.56),(3.51,1.83),(3.53,1.67),(3.56,1.61),(3.57,1.50),(3.77,1.80),(3.81,1.64),(3.75,1.20),(4.10,1.48),(4.20,1.79),
(4.31,1.86),(4.37,1.94),(4.49,1.33),(4.90,1.80),(5.68,1.59),(5.83,1.76),(5.88,1.96),(6.00,1.95),(6.21,1.92),(6.21,1.45),(6.28,1.45),(6.84,1.83)]
other_pair_right = [(7.51,4.35),(7.53,3.57),(7.52,2.75),(7.53,2.37),(7.31,3.85),(7.31,3.78),(8.04,4.68),(8.06,4.33),(8.15,4.32),(8.12,4.19),(7.99,4.14),(8.12,3.92),
(7.96,3.94),(8.12,3.79),(7.99,3.31),(7.97,3.16),(8.06,2.59)]
other_pair_outliers = [(4.00,4.97),(5.95,4.78),(5.50,4.57),(6.54,4.59),(4.67,4.48),(4.61,4.42),(4.97,4.35),(5.08,4.31),(5.30,4.56),(3.81,4.26),(3.92,4.23),(4.31,4.11)]

extrema_pair_band_a = [
(3.47,3.41),(3.50,3.87),(3.54,2.95),(3.57,3.63),(3.61,3.18),(3.64,2.71),(3.52,4.21),(3.59,3.34),
(3.66,3.72),(3.69,3.02),(3.72,3.49),(3.75,2.81),(3.78,3.95),(3.81,3.26),(3.84,2.58),(3.77,4.17),
(3.86,3.36),(3.89,3.81),(3.92,2.93),(3.95,3.57),(3.98,3.11),(4.01,4.04),(4.04,2.76),(3.94,3.66),
(4.06,3.53),(4.09,3.09),(4.12,3.91),(4.15,2.84),(4.18,3.44),(4.21,3.77),(4.24,2.99),(4.14,4.19),
(4.26,3.28),(4.29,3.84),(4.32,3.05),(4.35,3.59),(4.38,2.67),(4.41,3.98),(4.44,3.31),(4.34,4.12),
(4.46,3.69),(4.49,3.17),(4.52,3.93),(4.55,2.89),(4.58,3.46),(4.61,3.72),(4.64,2.98),(4.54,4.26),
(4.66,3.38),(4.69,3.85),(4.72,2.94),(4.75,3.62),(4.78,3.14),(4.81,3.97),(4.84,2.79),(4.74,4.31),
(4.86,3.51),(4.89,3.02),(4.92,3.88),(4.95,3.27),(4.98,3.66),(5.01,2.86),(5.04,3.79),(4.94,4.16),
(5.06,3.43),(5.09,3.94),(5.12,3.08),(5.15,3.71),(5.18,2.97),(5.21,3.55),(5.24,3.86),(5.14,4.23),
(5.26,3.61),(5.29,3.12),(5.32,3.89),(5.35,2.91),(5.38,3.47),(5.41,3.76),(5.44,3.23),(5.34,4.09),
(5.46,3.33),(5.49,3.82),(5.52,3.06),(5.55,3.58),(5.58,2.87),(5.61,3.96),(5.64,3.41),(5.54,4.24),
(5.66,3.67),(5.69,3.15),(5.72,3.92),(5.75,3.38),(5.78,2.83),(5.81,3.74),(5.84,3.28),(5.74,4.14),
(5.86,3.48),(5.89,3.96),(5.92,3.19),(5.95,3.71),(5.98,2.94),(6.01,3.57),(6.04,3.86),(5.94,4.27),
(6.06,3.35),(6.09,3.79),(6.12,3.04),(6.15,3.63),(6.18,2.92),(6.21,3.98),(6.24,3.26),(6.14,4.18),
(6.26,3.72),(6.29,3.18),(6.32,3.91),(6.42,3.44),(6.44,3.83),
(6.46,3.56),(6.49,3.93),(6.52,3.07),(6.55,3.68),(6.58,3.29),(6.61,3.84),(6.64,2.96),(6.54,4.21),
(6.66,3.41),(6.69,3.87),(6.72,3.12),(6.75,3.64),(6.78,3.36),(6.81,3.95),(6.84,2.85),(6.74,4.28),
(6.86,3.53),(6.89,3.99),(6.92,3.21),(6.95,3.72),(6.98,3.08),(7.01,3.61),(7.04,3.88),(7.07,3.34),(6.94,4.22),
]
extrema_pair_band_b = [
(3.46,3.68),(3.51,3.14),(3.56,3.86),(3.60,2.97),(3.63,3.52),(3.58,4.04),(3.67,3.31),(3.70,3.89),(3.74,3.07),(3.79,3.58),(3.83,3.93),(3.76,2.86),
(3.87,3.54),(3.91,4.02),(3.96,3.23),(4.00,3.71),(4.03,3.05),(3.93,3.39),(4.07,3.28),(4.10,3.82),(4.14,3.13),(4.19,3.61),(4.23,3.94),(4.16,2.91),
(4.27,3.63),(4.31,3.17),(4.36,3.87),(4.40,3.38),(4.43,3.03),(4.33,4.06),(4.47,3.36),(4.51,3.82),(4.56,3.11),(4.60,3.57),(4.63,4.03),(4.53,3.24),
(4.67,3.73),(4.71,3.21),(4.76,3.94),(4.80,3.46),(4.83,3.07),(4.73,3.58),(4.87,3.26),(4.91,3.75),(4.96,3.09),(5.00,3.92),(5.03,3.41),(4.93,3.62),
(5.07,3.67),(5.11,3.24),(5.16,3.88),(5.20,3.36),(5.23,3.02),(5.13,3.51),(5.27,3.37),(5.31,3.92),(5.36,3.14),(5.40,3.62),(5.43,3.97),(5.33,3.29),
(5.47,3.63),(5.51,3.17),(5.56,3.91),(5.60,3.44),(5.63,3.06),(5.53,3.72),(5.67,3.29),(5.71,3.84),(5.76,3.12),(5.80,3.56),(5.83,3.97),(5.73,3.41),
(5.87,3.77),(5.91,3.28),(5.96,3.59),(6.00,3.93),(6.03,3.17),(5.93,3.44),(6.07,3.62),(6.11,3.16),(6.16,3.89),(6.20,3.45),(6.23,3.73),(6.13,3.02),
(6.27,3.39),(6.31,3.66),(6.42,3.97),(6.44,3.14),(6.47,3.31),(6.51,3.76),(6.56,3.19),(6.60,3.58),(6.63,3.97),(6.53,3.42),
(6.67,3.69),(6.71,3.26),(6.76,3.92),(6.80,3.51),(6.83,3.13),(6.73,3.78),(6.87,3.27),(6.91,3.84),(6.96,3.43),(7.00,3.94),(7.03,3.22),(7.06,3.68),(7.09,3.47),
]
extrema_pair_band_c = [
(3.49,3.56),(3.53,3.24),(3.58,3.77),(3.62,3.09),(3.65,3.92),(3.69,3.61),(3.73,3.27),(3.77,3.84),(3.82,3.13),(3.85,3.48),
(3.89,3.19),(3.93,3.77),(3.97,3.41),(4.02,3.89),(4.05,3.26),(4.09,3.67),(4.13,3.34),(4.17,3.97),(4.22,3.18),(4.25,3.52),
(4.29,3.46),(4.33,3.81),(4.37,3.22),(4.42,3.69),(4.45,3.92),(4.49,3.58),(4.53,3.29),(4.57,3.88),(4.62,3.12),(4.65,3.49),
(4.69,3.31),(4.73,3.76),(4.77,3.44),(4.82,3.89),(4.85,3.17),(4.89,3.62),(4.93,3.33),(4.97,3.94),(5.02,3.19),(5.05,3.58),
(5.09,3.29),(5.13,3.82),(5.17,3.47),(5.22,3.97),(5.25,3.14),(5.29,3.53),(5.33,3.86),(5.37,3.26),(5.42,3.71),(5.45,3.42),
(5.49,3.24),(5.53,3.91),(5.57,3.38),(5.62,3.69),(5.65,3.11),(5.69,3.52),(5.73,3.84),(5.77,3.29),(5.82,3.96),(5.85,3.43),
(5.89,3.19),(5.93,3.84),(5.97,3.36),(6.02,3.71),(6.05,3.51),(6.09,3.43),(6.13,3.88),(6.17,3.24),(6.22,3.62),(6.25,3.94),
(6.28,3.53),(6.32,3.21),(6.43,3.61),(6.48,3.66),(6.52,3.24),(6.57,3.88),(6.62,3.43),(6.65,3.12),
(6.69,3.51),(6.73,3.97),(6.77,3.21),(6.82,3.69),(6.85,3.43),(6.89,3.34),(6.93,3.91),(6.97,3.62),(7.02,3.24),(7.05,3.79),(7.09,3.58),
]
extrema_pair_fringe = [(3.55,4.32),(3.71,4.26),(3.89,4.38),(4.03,4.24),(4.17,4.41),(4.29,4.29),(4.47,4.34),(4.62,4.27),(4.79,4.39),(4.91,4.30),(5.07,4.44),(5.21,4.26),
(5.36,4.37),(5.49,4.31),(5.66,4.42),(5.79,4.28),(5.93,4.36),(6.06,4.31),(6.19,4.43),(6.39,4.27),(6.52,4.35),(6.67,4.29),(6.83,4.41),(6.97,4.33),(7.04,4.25)]
extrema_pair_low = [(3.52,1.50),(3.65,1.61),(3.73,1.71),(3.91,1.57),(3.99,1.67),(4.49,1.56),(4.65,1.96),(4.76,1.79),(4.68,1.94)]
extrema_pair_right = [(7.53,4.01),(7.55,4.00),(7.54,3.94),(7.52,3.81),(7.56,3.58),(7.52,3.36),(7.31,3.62),(7.31,3.51),(8.15,4.70),(8.13,4.44),(8.06,4.06),(7.99,3.73),
(8.04,3.81),(7.99,3.54),(8.14,3.32)]
extrema_pair_outliers = [(6.08,5.74),(5.72,5.12),(6.13,5.01),(5.89,4.93),(7.06,4.74),(4.35,4.36),(4.58,4.48),(3.86,4.17),(4.20,4.21),(5.13,4.29),(6.80,4.49)]

# circled example systems (beta, log10 t_s)
highlight_beta = [4.285, 4.367, 5.088, 4.818]
highlight_log_ts = [-0.184, -0.184, 0.469, -1.47]

# t_s model curve
model_beta = [3.45, 4.5, 5.5, 6.5, 7.5, 8.19]
model_log_ts = [2.87, 2.99, 3.105, 3.22, 3.335, 3.415]

main_x_ticks = [4, 5, 6, 7, 8]
series_labels = ["same-pair", "other-neighbouring-pair", "extrema-pair"]

# inset separation curves (time since t_c in orbits, log10 separation in AU)
inset1_time = [-0.22,-0.181,-0.128,-0.086,-0.023,0.008,0.05,0.103,0.166,0.24,0.292,0.324,0.35,0.368,0.382,0.392,0.408,0.429,0.461,0.503,0.545,0.576,0.608,0.629,0.645,0.655,0.658,0.66]
inset1_log_sep = [-1.49,-1.62,-1.70,-1.70,-1.63,-1.605,-1.595,-1.605,-1.65,-1.74,-1.84,-1.93,-2.16,-2.40,-2.74,-2.44,-2.16,-1.95,-1.84,-1.79,-1.77,-1.81,-1.93,-2.09,-2.30,-2.63,-3.09,-4.07]
inset1_t_i = 0.66
inset2_time = [-0.211,-0.132,-0.082,-0.0625,-0.0476,-0.0377,-0.0327,-0.0278,-0.0179,-0.003,0.027,0.066,0.116,0.166,0.205,0.245,0.295,0.344,0.379,0.414,0.463,0.513,0.543,0.572,0.597,0.612,0.62,0.623,0.624]
inset2_log_sep = [-1.64,-1.83,-1.94,-2.03,-2.31,-2.82,-3.74,-2.82,-2.31,-2.08,-1.97,-1.92,-1.94,-2.05,-2.14,-2.10,-2.04,-2.11,-2.14,-2.03,-1.92,-1.88,-1.89,-1.95,-2.06,-2.27,-2.64,-3.2,-4.04]
inset2_t_i = 0.624
inset3_time = [-0.989,-0.754,-0.565,-0.424,-0.353,-0.283,-0.141,0.0,0.141,0.33,0.659,0.989,1.319,1.507,1.696,1.884,2.073,2.214,2.355,2.496,2.614,2.732,2.85,2.911,2.944,2.958,2.967]
inset3_log_sep = [-0.054,-0.166,-0.306,-0.539,-0.754,-0.68,-0.446,-0.241,-0.091,0.002,0.002,0.02,0.002,-0.091,-0.185,-0.185,-0.185,-0.26,-0.446,-0.773,-1.08,-1.33,-1.52,-1.705,-1.985,-2.5,-3.99]
inset3_t_i = 2.967
inset4_time = [-0.00977,-0.00507,0.0,0.00432,0.00901,0.01371,0.0184,0.0231,0.0254,0.0273,0.0285,0.0291,0.0294,0.02953]
inset4_log_sep = [-1.92,-1.957,-2.004,-2.078,-2.19,-2.31,-2.45,-2.64,-2.78,-2.96,-3.2,-3.48,-3.94,-4.1]
inset4_t_i = 0.02953
r_hill = 0.01
inset_xticks_1 = [-0.2, 0.0, 0.2, 0.4, 0.6, 0.8]
inset_xticks_3 = [0, 1, 2, 3]
inset_xticks_4 = [0.0, 0.01, 0.02, 0.03]

# ---------------- layout geometry (pixels) ----------------
L, R, T, B = 115, 897, 258, 748
X0, X1 = 3.23, 8.387
Y0, Y1 = 1e-2, 1e6
INSETS = [
    dict(box=(116, 2, 498, 241), frame=(148, 10, 497, 225), xr=(-0.2185, 0.882)),
    dict(box=(514, 2, 897, 242), frame=(545, 10, 893, 225), xr=(-0.211, 0.824)),
    dict(box=(913, 258, 1297, 497), frame=(945, 265, 1295, 479), xr=(-0.989, 3.957)),
    dict(box=(913, 510, 1297, 748), frame=(945, 516, 1295, 731), xr=(-0.00976, 0.03954)),
]

DV = {' ': 651, '(': 799, ')': 799, ',': 651, '-': 739, 'a': 1255, 'b': 1300, 'c': 1126, 'd': 1300,
      'e': 1260, 'g': 1300, 'h': 1298, 'i': 569, 'l': 569, 'm': 1995, 'n': 1298, 'o': 1253, 'p': 1300,
      'r': 842, 's': 1067, 't': 803, 'u': 1298, 'H': 1540, 'A': 1401, 'U': 1499, 'β': 1300}
BASE_K = 0.33   # measured shift of the rendered alphabetic baseline, in em


def tw(s, size):
    return sum(DV.get(ch, 1250) for ch in s) * size / 2048.0


def compose(fig, x, y, pieces, x0=0.0, y0=0.0, rotated=False):
    cum = 0.0
    for txt, size, italic, drop in pieces:
        lead = len(txt) - len(txt.lstrip(' '))
        cum += tw(' ' * lead, size)
        body = txt.lstrip(' ')
        if body.strip():
            corr = BASE_K * size
            if rotated:
                xo, yo, ang = x0 + drop - corr, y0 - cum, math.pi / 2
            else:
                xo, yo, ang = x0 + cum, y0 + drop - corr, 0.0
            fig.text(x=[x], y=[y], text=[body.strip()], x_offset=xo, y_offset=yo, angle=ang,
                     text_font=value(FONT), text_font_size="%.2fpx" % size,
                     text_font_style="italic" if italic else "normal",
                     text_align="left", text_baseline="alphabetic", text_color="black")
        cum += tw(body, size)
    return cum


def unzip(*lists):
    xs, ys = [], []
    for lst in lists:
        for a, b in lst:
            xs.append(a)
            ys.append(10.0 ** b)
    return xs, ys


def place(fig, left, top):
    fig.styles = {"position": "absolute", "left": "%dpx" % left, "top": "%dpx" % top}


# ---------------- main figure ----------------
main = figure(width=W, height=H, x_range=Range1d(X0, X1), y_range=Range1d(Y0, Y1), y_axis_type="log",
              min_border_left=L, min_border_right=W - R, min_border_top=T, min_border_bottom=H - B,
              toolbar_location=None, output_backend="svg", title=None)
place(main, 0, 0)
main.xaxis.ticker = FixedTicker(ticks=main_x_ticks)
main.yaxis.ticker = FixedTicker(ticks=[10.0 ** k for k in range(-2, 7)],
                                minor_ticks=[m * 10.0 ** k for k in range(-2, 6) for m in range(2, 10)])
for ax in (main.xaxis, main.yaxis):
    ax.axis_line_width = 2
    ax.axis_line_color = "black"
    ax.major_tick_line_width = 2
    ax.major_tick_line_color = "black"
    ax.major_tick_out = 7
    ax.major_tick_in = 0
    ax.minor_tick_line_width = 1.5
    ax.minor_tick_line_color = "black"
    ax.minor_tick_out = 4
    ax.minor_tick_in = 0
    ax.major_label_text_font = FONT
    ax.major_label_text_font_size = "20px"
    ax.major_label_text_color = "black"
main.xaxis.minor_tick_line_color = None
main.xaxis.major_label_standoff = 8
main.yaxis.major_label_standoff = 7
main.outline_line_color = "black"
main.outline_line_width = 2
main.outline_line_alpha = 1
main.grid.grid_line_color = "#b0b0b0"
main.grid.grid_line_width = 1.6

bx, by = unzip(same_pair_band_a, same_pair_band_b, same_pair_band_c, same_pair_band_d, same_pair_fringe,
               same_pair_mid_low, same_pair_mid, same_pair_low, same_pair_right, same_pair_outliers,
               list(zip(highlight_beta, highlight_log_ts)))
ox, oy = unzip(other_pair_band_a, other_pair_band_b, other_pair_band_c, other_pair_fringe, other_pair_low,
               other_pair_right, other_pair_outliers)
gx, gy = unzip(extrema_pair_band_a, extrema_pair_band_b, extrema_pair_band_c, extrema_pair_fringe,
               extrema_pair_low, extrema_pair_right, extrema_pair_outliers)
main.scatter(x=bx, y=by, size=6.5, color=BLUE)
main.scatter(x=ox, y=oy, size=6.5, color=ORANGE)
main.scatter(x=gx, y=gy, size=6.5, color=GREEN)
main.line(x=model_beta, y=[10.0 ** v for v in model_log_ts], line_color="black", line_width=5.5, line_dash="22 10")
main.scatter(x=highlight_beta, y=[10.0 ** v for v in highlight_log_ts], size=12, fill_color=None,
             line_color="black", line_width=1.8)

# ---------------- insets ----------------
ins_major = [10.0 ** k for k in range(-5, 2)]
ins_minor = [m * 10.0 ** k for k in range(-5, 1) for m in range(2, 10)]
inset_specs = [
    (inset1_time, inset1_log_sep, inset1_t_i, inset_xticks_1, 1),
    (inset2_time, inset2_log_sep, inset2_t_i, inset_xticks_1, 1),
    (inset3_time, inset3_log_sep, inset3_t_i, inset_xticks_3, 0),
    (inset4_time, inset4_log_sep, inset4_t_i, inset_xticks_4, 2),
]
inset_figs = []
for geo, (times, lsep, t_i, xticks, nd) in zip(INSETS, inset_specs):
    bl, bt, br, bb = geo["box"]
    fl, ft, fr, fb = geo["frame"]
    xr0, xr1 = geo["xr"]
    f = figure(width=br - bl, height=bb - bt, x_range=Range1d(xr0, xr1), y_range=Range1d(1e-5, 1e1),
               y_axis_type="log", toolbar_location=None, output_backend="svg", title=None,
               min_border_left=fl - bl, min_border_right=br - fr, min_border_top=ft - bt,
               min_border_bottom=bb - fb)
    place(f, bl, bt)
    f.grid.visible = False
    f.outline_line_color = "black"
    f.outline_line_width = 1
    f.xaxis.ticker = FixedTicker(ticks=xticks)
    f.xaxis.formatter = CustomJSTickFormatter(code="return tick.toFixed(%d).replace('-', '\u2212');" % nd)
    f.yaxis.ticker = FixedTicker(ticks=ins_major, minor_ticks=ins_minor)
    for ax in (f.xaxis, f.yaxis):
        ax.axis_line_color = "black"
        ax.axis_line_width = 1
        ax.major_tick_out = 3
        ax.major_tick_in = 0
        ax.minor_tick_out = 2
        ax.minor_tick_in = 0
        ax.major_tick_line_color = "black"
        ax.minor_tick_line_color = "black"
        ax.major_label_text_font = FONT
        ax.major_label_text_font_size = "10px"
        ax.major_label_text_color = "black"
        ax.major_label_standoff = 2
    f.xaxis.minor_tick_line_color = None
    f.line(x=times, y=[10.0 ** v for v in lsep], line_color=BLUE, line_width=1.5)
    f.add_layout(Span(location=0.0, dimension="height", line_color=ORANGE, line_width=1.5, line_dash="6 2"))
    f.add_layout(Span(location=t_i, dimension="height", line_color=GREEN, line_width=1.5, line_dash="6 2"))
    f.add_layout(Span(location=r_hill, dimension="width", line_color=RED, line_width=1.5, line_dash="6 2"))
    fw, fh = fr - fl, fb - ft
    span = xr1 - xr0
    total = tw("time since t", 13.6) + tw("c", 9.5) + tw(" (orbits)", 13.6)
    compose(f, (xr0 + xr1) / 2, 10 ** -4.98, [("time since t", 13.6, False, 0), ("c", 9.5, False, 2.7),
                                               (" (orbits)", 13.6, False, 0)], x0=-total / 2, y0=-4.8)
    f.text(x=[xr0 + 0.005 * span], y=[1e-2], text=["separation (AU)"], angle=math.pi / 2,
           x_offset=-0.5 - 0.005 * fw, text_align="center", text_baseline="top",
           text_font=value(FONT), text_font_size="13.6px", text_color="black")
    compose(f, 0.0, 10 ** 0.98, [("t", 12.5, False, 0), ("c", 8.75, False, 2.5)], x0=2.5, y0=9.3)
    compose(f, t_i, 10 ** 0.98, [("t", 12.5, False, 0), ("i", 8.75, False, 2.5)], x0=2.5, y0=9.3)
    rtot = tw("r", 12.5) + tw("H", 8.75)
    compose(f, xr1 - 0.01 * span, r_hill, [("r", 12.5, False, 0), ("H", 8.75, False, 3.3)],
            x0=-1 - rtot + 0.01 * fw, y0=-2.5)
    inset_figs.append(f)

# ---------------- overlay (connections, boxes, legend, labels) ----------------
ov = figure(width=W, height=H, x_range=Range1d(0, W), y_range=Range1d(0, H), toolbar_location=None,
            output_backend="svg", min_border=0, x_axis_location=None, y_axis_location=None, title=None,
            background_fill_alpha=0, border_fill_alpha=0, outline_line_color=None)
ov.grid.visible = False
place(ov, 0, 0)


def Y(py):
    return H - py


def main_px(x, log_ts):
    px = L + (x - X0) / (X1 - X0) * (R - L)
    py = B - (log_ts - math.log10(Y0)) / (math.log10(Y1) - math.log10(Y0)) * (B - T)
    return px, py


for geo in INSETS:
    bl, bt, br, bb = geo["box"]
    ov.add_layout(BoxAnnotation(left=bl, right=br, top=Y(bt), bottom=Y(bb), fill_alpha=0,
                                line_color="black", line_width=2, line_alpha=1, border_radius=4))

corners = [
    (0, (INSETS[0]["box"][0], INSETS[0]["box"][3])), (0, (INSETS[0]["box"][2], INSETS[0]["box"][3])),
    (1, (INSETS[1]["box"][0], INSETS[1]["box"][3])), (1, (INSETS[1]["box"][2], INSETS[1]["box"][3])),
    (2, (INSETS[2]["box"][0], INSETS[2]["box"][1])), (2, (INSETS[2]["box"][0], INSETS[2]["box"][3])),
    (3, (INSETS[3]["box"][0], INSETS[3]["box"][1])), (3, (INSETS[3]["box"][0], INSETS[3]["box"][3])),
]
sx0, sy0, sx1, sy1 = [], [], [], []
for idx, (cx, cy) in corners:
    px, py = main_px(highlight_beta[idx], highlight_log_ts[idx])
    d = math.hypot(cx - px, cy - py)
    ux, uy = (cx - px) / d, (cy - py) / d
    sx0.append(px + 6.5 * ux)
    sy0.append(Y(py + 6.5 * uy))
    sx1.append(cx)
    sy1.append(Y(cy))
ov.segment(x0=sx0, y0=sy0, x1=sx1, y1=sy1, line_color="black", line_width=2, line_dash="3 3")

compose(ov, 33, Y(573.6), [("t", 30, False, 0), ("s", 21, False, 5.5), (" (orbits)", 30, False, 0)], rotated=True)
compose(ov, 267, Y(820), [("initial spacing, ", 30, False, 0), ("β", 30, True, 0),
                          (" (mutual Hill radii)", 30, False, 0)])
compose(ov, 718, Y(449), [("t", 25, True, 0), ("s", 17.5, True, 5), (" model", 25, False, 0)])

# legend proxies: one undrawn (NaN) point each, used only for the legend icons
lr = [ov.scatter(x=[math.nan], y=[math.nan], size=7.5, color=c) for c in (BLUE, ORANGE, GREEN)]
legend = Legend(items=[LegendItem(label=lab, renderers=[r]) for lab, r in zip(series_labels, lr)],
                location=(911, H - 184), orientation="vertical",
                label_text_font=FONT, label_text_font_size="26px", label_text_color="black",
                glyph_width=18, glyph_height=29, label_height=29, label_width=313, spacing=7, padding=10,
                margin=0, label_standoff=26, border_line_color="#cccccc", border_line_width=1,
                border_line_alpha=1, background_fill_color="white", background_fill_alpha=0.8)
ov.add_layout(legend)

open("out.html", "w").write(file_html([main] + inset_figs + [ov], INLINE))
